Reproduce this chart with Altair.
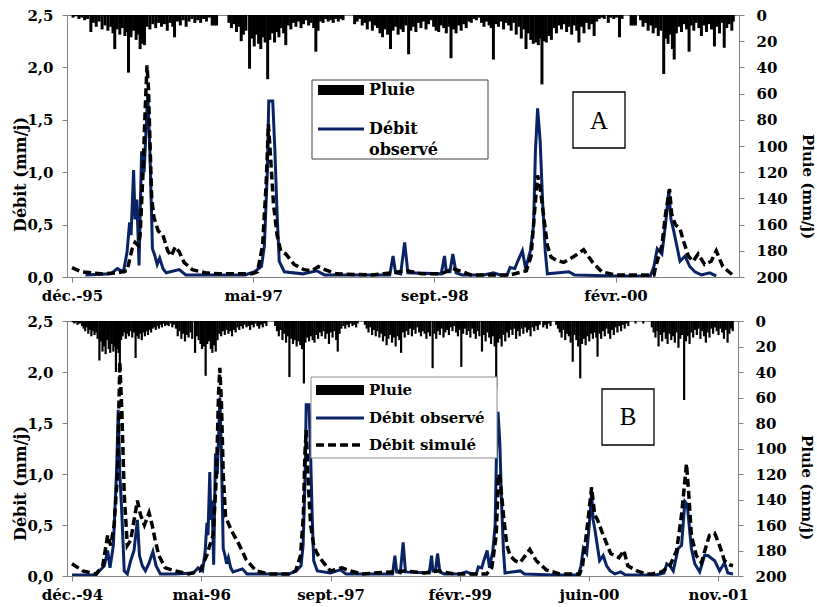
import altair as alt
import pandas as pd

# ---------------------------------------------------------------- données
ORIGINE = pd.Timestamp("1994-12-29")          # jour 0
MOIS = ["janv.", "févr.", "mars", "avr.", "mai", "juin",
        "juil.", "août", "sept.", "oct.", "nov.", "déc."]

DOMAINE_A = (363, 2190)
DOMAINE_B = (0, 2557)
GRADUATIONS_A = [363, 863, 1363, 1863]
GRADUATIONS_B = [0, 500, 1000, 1500, 2000, 2500]
GRAD_DEBIT = [0, 0.5, 1.0, 1.5, 2.0, 2.5]
GRAD_PLUIE = [0, 20, 40, 60, 80, 100, 120, 140, 160, 180, 200]

# débit observé (jour, mm/j)
DEBIT_OBSERVE = [
    (0, 0.01), (93, 0.01), (106, 0.05), (125, 0.1), (138, 0.25), (147, 0.08), (160, 0.3),
    (172, 1.0), (179, 1.63), (185, 1.0), (193, 0.6), (202, 0.05), (214, 0.02), (227, 0.15),
    (240, 0.25), (253, 0.55), (261, 0.2), (272, 0.1), (284, 0.05), (297, 0.12), (313, 0.24),
    (325, 0.1), (342, 0.02), (400, 0.02), (470, 0.03), (488, 0.08), (505, 0.05), (515, 0.24),
    (522, 0.52), (526, 0.4), (533, 1.02), (537, 0.55), (542, 0.74), (548, 0.11), (555, 1.2),
    (562, 1.0), (572, 1.75), (578, 1.2), (585, 0.27), (592, 0.2), (598, 0.12), (605, 0.18),
    (614, 0.08), (623, 0.04), (659, 0.07), (677, 0.02), (840, 0.02), (867, 0.05), (886, 0.1),
    (894, 0.3), (902, 1.0), (906, 1.68), (917, 1.68), (923, 1.2), (929, 0.6), (935, 0.15),
    (949, 0.05), (1000, 0.03), (1038, 0.06), (1060, 0.02), (1240, 0.02), (1249, 0.2),
    (1256, 0.04), (1270, 0.03), (1281, 0.33), (1290, 0.04), (1382, 0.03), (1391, 0.2),
    (1396, 0.05), (1406, 0.05), (1414, 0.22), (1423, 0.04), (1440, 0.02), (1500, 0.02),
    (1526, 0.04), (1545, 0.02), (1564, 0.02), (1572, 0.09), (1585, 0.08), (1593, 0.15),
    (1606, 0.25), (1615, 0.08), (1628, 0.25), (1637, 0.5), (1642, 1.2), (1648, 1.61),
    (1655, 1.3), (1662, 0.7), (1669, 0.25), (1675, 0.03), (1734, 0.05), (1750, 0.02),
    (1862, 0.01), (1959, 0.01), (1969, 0.1), (1978, 0.27), (1991, 0.22), (2001, 0.5),
    (2010, 0.82), (2016, 0.55), (2023, 0.45), (2032, 0.3), (2041, 0.15), (2055, 0.2),
    (2068, 0.1), (2082, 0.05), (2100, 0.02), (2123, 0.04), (2141, 0.01), (2260, 0.01),
    (2290, 0.03), (2301, 0.12), (2313, 0.1), (2326, 0.05), (2345, 0.27), (2358, 0.3),
    (2371, 0.73), (2380, 0.7), (2396, 0.27), (2409, 0.12), (2428, 0.04), (2447, 0.2),
    (2460, 0.2), (2486, 0.15), (2505, 0.05), (2524, 0.13), (2537, 0.03), (2557, 0.02),
]

# débit simulé, panneau A
DEBIT_SIMULE_A = [
    (363, 0.09), (388, 0.05), (443, 0.03), (488, 0.04), (515, 0.06), (529, 0.27), (537, 0.33),
    (546, 0.3), (551, 0.4), (559, 1.0), (565, 1.6), (570, 2.02), (574, 1.8), (579, 1.2),
    (583, 0.75), (589, 0.57), (601, 0.44), (614, 0.4), (627, 0.25), (637, 0.2), (648, 0.29),
    (659, 0.24), (672, 0.14), (695, 0.07), (731, 0.04), (767, 0.03), (860, 0.03), (875, 0.05),
    (889, 0.3), (899, 0.9), (905, 1.46), (910, 1.2), (919, 0.7), (929, 0.4), (939, 0.25),
    (953, 0.22), (976, 0.12), (1003, 0.07), (1025, 0.06), (1043, 0.1), (1061, 0.07),
    (1092, 0.03), (1190, 0.02), (1246, 0.04), (1287, 0.06), (1328, 0.03), (1382, 0.03),
    (1414, 0.08), (1441, 0.05), (1463, 0.02), (1572, 0.02), (1617, 0.06), (1630, 0.2),
    (1639, 0.6), (1648, 0.97), (1655, 0.85), (1664, 0.6), (1675, 0.3), (1685, 0.19),
    (1700, 0.16), (1720, 0.14), (1750, 0.2), (1775, 0.26), (1800, 0.14), (1825, 0.05),
    (1862, 0.02), (1969, 0.02), (1974, 0.1), (1991, 0.3), (2001, 0.6), (2012, 0.84),
    (2018, 0.6), (2028, 0.5), (2041, 0.46), (2050, 0.35), (2064, 0.2), (2077, 0.15),
    (2091, 0.22), (2109, 0.12), (2127, 0.15), (2141, 0.25), (2159, 0.1), (2186, 0.02),
    (2190, 0.02),
]

# débit simulé, panneau B
DEBIT_SIMULE_B = [
    (0, 0.12), (42, 0.05), (93, 0.02), (119, 0.1), (138, 0.4), (150, 0.3), (163, 0.5),
    (176, 1.0), (185, 2.1), (193, 1.6), (202, 0.8), (214, 0.3), (227, 0.35), (253, 0.74),
    (265, 0.6), (280, 0.5), (298, 0.62), (310, 0.5), (322, 0.35), (336, 0.2), (361, 0.08),
    (399, 0.05), (451, 0.02), (495, 0.05), (521, 0.2), (533, 0.3), (546, 0.4), (559, 1.0),
    (567, 1.8), (572, 2.04), (578, 1.7), (585, 1.0), (594, 0.58), (616, 0.45), (648, 0.3),
    (674, 0.16), (712, 0.05), (762, 0.02), (838, 0.02), (865, 0.05), (884, 0.2), (895, 0.6),
    (901, 1.2), (906, 1.43), (914, 0.9), (923, 0.5), (935, 0.3), (948, 0.22), (967, 0.15),
    (999, 0.05), (1044, 0.08), (1076, 0.05), (1120, 0.02), (1235, 0.04), (1286, 0.05),
    (1363, 0.03), (1414, 0.05), (1478, 0.02), (1604, 0.02), (1624, 0.08), (1641, 0.4),
    (1650, 1.0), (1656, 0.95), (1669, 0.6), (1682, 0.3), (1695, 0.2), (1714, 0.15),
    (1733, 0.13), (1771, 0.26), (1796, 0.15), (1835, 0.06), (1886, 0.02), (1937, 0.02),
    (1964, 0.02), (1975, 0.1), (1994, 0.5), (2010, 0.87), (2022, 0.6), (2033, 0.55),
    (2052, 0.42), (2071, 0.3), (2084, 0.22), (2100, 0.2), (2116, 0.18), (2135, 0.25),
    (2150, 0.1), (2186, 0.05), (2220, 0.02), (2243, 0.02), (2281, 0.04), (2313, 0.1),
    (2339, 0.25), (2358, 0.6), (2377, 1.1), (2386, 0.8), (2396, 0.4), (2415, 0.2),
    (2435, 0.13), (2454, 0.3), (2466, 0.4), (2486, 0.42), (2505, 0.3), (2524, 0.15),
    (2543, 0.11), (2557, 0.1),
]

# pluie (jour, mm/j), panneau A
PLUIE_A = [
    (366, 2), (374, 1), (382, 3), (390, 2), (398, 4), (406, 3), (415, 13), (422, 6), (430, 9),
    (438, 5), (446, 11), (454, 8), (462, 12), (470, 9), (476, 14), (481, 26), (488, 11),
    (495, 15), (502, 10), (509, 16), (515, 13), (519, 44), (526, 17), (533, 12), (540, 19),
    (546, 15), (551, 26), (557, 22), (563, 23), (570, 9), (578, 11), (586, 7), (594, 10),
    (602, 6), (610, 9), (618, 7), (626, 12), (634, 6), (641, 9), (646, 17), (654, 5), (662, 8),
    (670, 4), (678, 9), (686, 5), (694, 3), (702, 6), (710, 4), (718, 6), (726, 3), (734, 5),
    (742, 2), (750, 8), (756, 8), (762, 8),
    (796, 6), (803, 10), (810, 7), (817, 13), (824, 9), (830, 20), (836, 15), (843, 12),
    (853, 41), (859, 18), (866, 24), (872, 15), (878, 22), (884, 26), (890, 17), (896, 21),
    (903, 49), (909, 19), (916, 14), (922, 21), (928, 13), (934, 17), (940, 10), (947, 14),
    (953, 23), (960, 8), (967, 11), (974, 6), (981, 9), (988, 5), (995, 10), (1002, 7),
    (1009, 4), (1016, 8), (1023, 6), (1030, 10), (1036, 28), (1042, 12), (1049, 5), (1056, 6),
    (1063, 3), (1070, 5), (1077, 4), (1084, 6), (1091, 3), (1098, 5), (1105, 3), (1111, 4),
    (1143, 7), (1150, 5), (1157, 3), (1164, 8), (1171, 6), (1178, 11), (1185, 5), (1192, 12),
    (1199, 8), (1206, 10), (1213, 14), (1220, 17), (1227, 11), (1234, 15), (1242, 26),
    (1249, 12), (1256, 9), (1263, 15), (1270, 11), (1277, 13), (1284, 8), (1292, 30),
    (1298, 12), (1305, 9), (1312, 13), (1319, 6), (1326, 10), (1333, 5), (1340, 11), (1347, 7),
    (1354, 4), (1361, 9), (1368, 12), (1375, 13), (1382, 8), (1389, 10), (1396, 14), (1403, 9),
    (1409, 33), (1416, 11), (1423, 14), (1430, 8), (1437, 12), (1444, 7), (1451, 10), (1458, 5),
    (1465, 6), (1472, 3), (1479, 4), (1486, 2), (1493, 6), (1500, 9), (1507, 5), (1514, 8),
    (1520, 10), (1526, 34), (1533, 7), (1540, 9), (1547, 5), (1554, 11), (1561, 6),
    (1568, 8), (1575, 12), (1582, 6), (1589, 15), (1596, 9), (1603, 18), (1610, 11), (1616, 26),
    (1622, 14), (1629, 19), (1636, 22), (1643, 21), (1650, 23), (1655, 18), (1660, 53),
    (1666, 20), (1672, 21), (1679, 16), (1686, 19), (1693, 10), (1700, 14), (1707, 8),
    (1714, 11), (1721, 7), (1728, 13), (1735, 9), (1742, 15), (1749, 8), (1756, 12), (1762, 21),
    (1769, 9), (1776, 14), (1783, 6), (1790, 11), (1797, 7), (1804, 16), (1811, 5), (1818, 3),
    (1825, 2), (1832, 3), (1843, 6), (1850, 2), (1858, 3), (1866, 2), (1874, 17), (1881, 3),
    (1906, 8), (1912, 8), (1918, 8),
    (1932, 4), (1939, 9), (1946, 6), (1953, 12), (1960, 8), (1967, 14), (1974, 10), (1981, 16),
    (1988, 12), (1996, 45), (2002, 18), (2008, 22), (2014, 15), (2020, 26), (2025, 34),
    (2031, 14), (2038, 9), (2045, 13), (2052, 7), (2059, 11), (2066, 28), (2072, 8), (2079, 12),
    (2086, 6), (2093, 10), (2100, 16), (2107, 8), (2114, 13), (2121, 7), (2128, 11), (2136, 24),
    (2143, 9), (2150, 14), (2157, 6), (2163, 25), (2170, 10), (2177, 7), (2184, 12), (2188, 5),
]

# pluie (jour, mm/j), panneau B
PLUIE_B = [
    (3, 1), (9, 2), (15, 1), (21, 3), (27, 2), (33, 2), (39, 4), (45, 6), (51, 8), (57, 5),
    (63, 10), (69, 7), (75, 12), (81, 8), (87, 11), (93, 9), (99, 14), (106, 31), (112, 16),
    (118, 24), (124, 20), (130, 26), (136, 15), (142, 22), (148, 25), (154, 18), (160, 24),
    (165, 20), (170, 40), (175, 22), (180, 25), (185, 40), (190, 15), (196, 12), (202, 9),
    (208, 14), (214, 10), (220, 12), (226, 8), (233, 13), (240, 9), (246, 29), (252, 12),
    (258, 14), (264, 10), (270, 15), (276, 9), (282, 12), (288, 8), (294, 11), (300, 7),
    (306, 9), (312, 6), (318, 5), (324, 7), (330, 4), (336, 6), (342, 3), (348, 5), (354, 2),
    (360, 4),
    (367, 3), (374, 4), (381, 2), (388, 5), (395, 3), (402, 6), (409, 12), (416, 8), (423, 14),
    (430, 10), (437, 16), (444, 11), (451, 13), (458, 9), (465, 14), (476, 25), (483, 12),
    (490, 15), (497, 18), (503, 22), (510, 20), (517, 43), (523, 18), (530, 16), (537, 22),
    (543, 25), (549, 19), (556, 24), (563, 15), (570, 10), (577, 12), (584, 8), (591, 11),
    (598, 7), (605, 10), (612, 8), (619, 12), (626, 7), (633, 9), (640, 5), (647, 7), (654, 4),
    (661, 6), (668, 3), (675, 5), (682, 4), (689, 7), (696, 3), (703, 5), (710, 2), (717, 4),
    (724, 6), (731, 3), (738, 5), (745, 2), (752, 4),
    (786, 4), (793, 8), (800, 12), (807, 7), (814, 15), (821, 10), (828, 17), (835, 12),
    (841, 44), (848, 14), (855, 18), (862, 15), (869, 20), (876, 16), (883, 19), (890, 22),
    (897, 49), (903, 17), (910, 13), (917, 16), (924, 12), (931, 15), (938, 17), (945, 11),
    (952, 14), (959, 9), (966, 12), (973, 8), (980, 14), (987, 10), (994, 18), (1001, 9),
    (1008, 13), (1015, 8), (1022, 15), (1028, 24), (1035, 10), (1042, 6), (1050, 4), (1057, 6),
    (1064, 3), (1071, 5), (1078, 2), (1085, 4), (1092, 3), (1099, 5), (1105, 2),
    (1133, 3), (1140, 6), (1147, 9), (1154, 5), (1161, 11), (1168, 7), (1175, 12), (1182, 8),
    (1189, 13), (1196, 10), (1203, 16), (1210, 12), (1217, 19), (1224, 14), (1231, 11),
    (1238, 17), (1245, 13), (1252, 20), (1259, 12), (1266, 15), (1273, 25), (1280, 9),
    (1287, 13), (1294, 8), (1301, 11), (1308, 6), (1315, 12), (1322, 7), (1329, 10), (1336, 5),
    (1343, 9), (1350, 12), (1357, 8), (1364, 10), (1371, 14), (1378, 9), (1385, 12), (1395, 37),
    (1402, 10), (1409, 14), (1416, 8), (1423, 11), (1430, 6), (1437, 13), (1444, 9), (1451, 7),
    (1458, 11), (1465, 5), (1472, 8), (1479, 4), (1486, 9), (1493, 12), (1500, 7), (1506, 36),
    (1513, 10), (1520, 6), (1527, 11), (1534, 8), (1541, 13),
    (1548, 6), (1555, 10), (1562, 14), (1569, 8), (1576, 12), (1586, 24), (1593, 11),
    (1600, 16), (1607, 9), (1614, 13), (1621, 18), (1628, 12), (1635, 20), (1641, 53),
    (1648, 17), (1655, 14), (1662, 20), (1669, 11), (1676, 16), (1683, 9), (1690, 13),
    (1697, 7), (1704, 11), (1711, 6), (1718, 14), (1725, 8), (1732, 12), (1739, 6), (1746, 10),
    (1753, 5), (1760, 9), (1767, 7), (1774, 12), (1781, 5), (1788, 8), (1795, 4), (1802, 7),
    (1809, 3), (1823, 5), (1830, 3), (1837, 6), (1844, 2), (1851, 4), (1873, 3), (1880, 6),
    (1887, 9), (1894, 13), (1901, 7), (1908, 15), (1915, 10), (1922, 12), (1929, 17),
    (1937, 32), (1944, 11), (1951, 15), (1958, 20), (1966, 45), (1973, 18), (1980, 14),
    (1987, 19), (1994, 12), (2001, 16), (2008, 10), (2015, 14), (2022, 9), (2028, 13),
    (2033, 28), (2040, 10), (2047, 14), (2054, 8), (2061, 12), (2068, 6), (2075, 10),
    (2082, 14), (2089, 7), (2096, 11), (2103, 5), (2110, 9), (2117, 4), (2124, 8), (2131, 3),
    (2138, 6), (2145, 2), (2152, 4), (2180, 2), (2210, 2),
    (2243, 5), (2250, 9), (2257, 13), (2264, 8), (2269, 20), (2276, 11), (2283, 16), (2290, 9),
    (2297, 14), (2304, 18), (2311, 10), (2318, 15), (2325, 12), (2332, 17), (2339, 9),
    (2346, 21), (2353, 14), (2360, 11), (2368, 62), (2375, 16), (2382, 12), (2389, 18),
    (2396, 9), (2403, 13), (2410, 7), (2417, 11), (2424, 6), (2431, 14), (2438, 8), (2445, 12),
    (2452, 17), (2459, 9), (2466, 13), (2473, 6), (2480, 10), (2487, 5), (2494, 8), (2501, 11),
    (2508, 6), (2515, 9), (2522, 14), (2529, 7), (2536, 17), (2543, 10), (2550, 6), (2556, 8),
]

# ---------------------------------------------------------------- style
BLEU = "#0a2365"
GRIS = "#808080"
POLICE = "DejaVu Serif"
UN = pd.DataFrame({"k": [0]})


def jour(j):
    return ORIGINE + pd.Timedelta(days=j)


def dt(j):
    t = jour(j)
    return alt.DateTime(year=t.year, month=t.month, date=t.day)


def table(paires, nom, domaine):
    df = pd.DataFrame({"date": [jour(j) for j, _ in paires],
                       nom: [v for _, v in paires]})
    lo, hi = jour(domaine[0] - 20), jour(domaine[1] + 20)
    return df[(df["date"] >= lo) & (df["date"] <= hi)]


EXPR_MOIS = ("[" + ",".join("'" + m + "'" for m in MOIS) + "][month(datum.value)]"
             " + '-' + timeFormat(datum.value, '%y')")


def texte(t, x, y, taille=15, gras="bold", police=POLICE, align="left"):
    return alt.Chart(UN).mark_text(
        text=t, align=align, baseline="middle", font=police, fontSize=taille,
        fontWeight=gras, color="black").encode(x=alt.value(x), y=alt.value(y))


def cadre(x1, x2, y1, y2, trait, epais=1.0):
    return alt.Chart(UN).mark_rect(fill="white", stroke=trait, strokeWidth=epais).encode(
        x=alt.value(x1), x2=alt.value(x2), y=alt.value(y1), y2=alt.value(y2))


def panneau(domaine, graduations, pluie, sim, largeur, hauteur,
            titre_g, titre_d, decor, taille_barre):
    xsc = alt.Scale(domain=[dt(domaine[0]), dt(domaine[1])])
    xax = alt.Axis(values=[dt(j) for j in graduations], labelExpr=EXPR_MOIS,
                   tickSize=5, labelPadding=6, labelFlush=False, labelOverlap=False,
                   grid=False, title=None)
    pluie_df = table(pluie, "pluie", domaine)
    obs_df = table(DEBIT_OBSERVE, "debit", domaine)
    sim_df = table(sim, "debit", domaine)

    barres = alt.Chart(pluie_df).mark_bar(color="black", size=taille_barre).encode(
        x=alt.X("date:T", scale=xsc, axis=xax),
        y=alt.Y("pluie:Q", scale=alt.Scale(domain=[0, 200], reverse=True, nice=False),
                axis=alt.Axis(orient="right", values=GRAD_PLUIE, tickSize=5,
                              labelPadding=12, title="Pluie (mm/j)", titleAngle=90,
                              titleX=titre_d[0], titleY=titre_d[1],
                              titleBaseline="middle", titleAlign="center",
                              titleFontSize=15, grid=False)),
    )
    yd = alt.Y("debit:Q", scale=alt.Scale(domain=[0, 2.5], nice=False),
               axis=alt.Axis(values=GRAD_DEBIT, tickSize=5, labelPadding=9,
                             labelExpr="replace(format(datum.value, '.1f'), '.', ',')",
                             title="Débit (mm/j)", titleAngle=-90,
                             titleX=titre_g[0], titleY=titre_g[1],
                             titleBaseline="middle", titleAlign="center",
                             titleFontSize=16, grid=False))
    obs = alt.Chart(obs_df).mark_line(color=BLEU, strokeWidth=3, clip=True).encode(
        x=alt.X("date:T", scale=xsc, axis=xax), y=yd)
    simu = alt.Chart(sim_df).mark_line(color="black", strokeWidth=3.5,
                                      strokeDash=[8, 4], clip=True).encode(
        x=alt.X("date:T", scale=xsc, axis=xax), y=yd)
    debits = alt.layer(obs, simu)
    return alt.layer(barres, debits, *decor).resolve_scale(y="independent").properties(
        width=largeur, height=hauteur)


# both panels share the same left origin (x = 66 px)
decor_a = [
    cadre(245, 421, 65, 144, "#404040"),
    alt.Chart(UN).mark_rect(color="black").encode(
        x=alt.value(251), x2=alt.value(297), y=alt.value(70), y2=alt.value(80)),
    texte("Pluie", 302, 75, 16),
    alt.Chart(UN).mark_rule(color=BLEU, strokeWidth=3).encode(
        x=alt.value(251), x2=alt.value(297), y=alt.value(114)),
    texte("Débit", 302, 114, 16),
    texte("observé", 302, 135, 16),
    cadre(506, 558, 77, 133, "black", 1.3),
    texte("A", 532, 106, 25, "normal", "Liberation Serif", "center"),
]

decor_b = [
    cadre(244, 430, 56, 137, "#8c8c8c"),
    alt.Chart(UN).mark_rect(color="black").encode(
        x=alt.value(249), x2=alt.value(297), y=alt.value(64), y2=alt.value(74)),
    texte("Pluie", 302, 69, 15),
    alt.Chart(UN).mark_rule(color=BLEU, strokeWidth=3).encode(
        x=alt.value(249), x2=alt.value(297), y=alt.value(97)),
    texte("Débit observé", 302, 97, 15),
    alt.Chart(UN).mark_rule(color="black", strokeWidth=3.5, strokeDash=[8, 4]).encode(
        x=alt.value(249), x2=alt.value(297), y=alt.value(124)),
    texte("Débit simulé", 302, 124, 15),
    cadre(535, 587, 68, 124, "black", 1.3),
    texte("B", 561, 96, 25, "normal", "Liberation Serif", "center"),
]

panneau_a = panneau(DOMAINE_A, GRADUATIONS_A, PLUIE_A, DEBIT_SIMULE_A, 672, 262,
                    (-47, 159), (68, 171), decor_a, 3.0)
panneau_b = panneau(DOMAINE_B, GRADUATIONS_B, PLUIE_B, DEBIT_SIMULE_B, 671, 255,
                    (-47, 162), (68, 166), decor_b, 2.2)

chart = alt.vconcat(panneau_a, panneau_b, spacing=9).properties(
    padding={"left": 11, "top": 7, "right": 0, "bottom": 0},
    background="white",
).configure_view(stroke=GRIS, strokeWidth=1).configure_axis(
    labelFont=POLICE, labelFontSize=15, labelFontWeight="bold", labelColor="black",
    titleFont=POLICE, titleFontWeight="bold", titleColor="black",
    domainColor=GRIS, tickColor=GRIS,
)

chart.save("out.html", embed_options={"renderer": "svg", "actions": False})
